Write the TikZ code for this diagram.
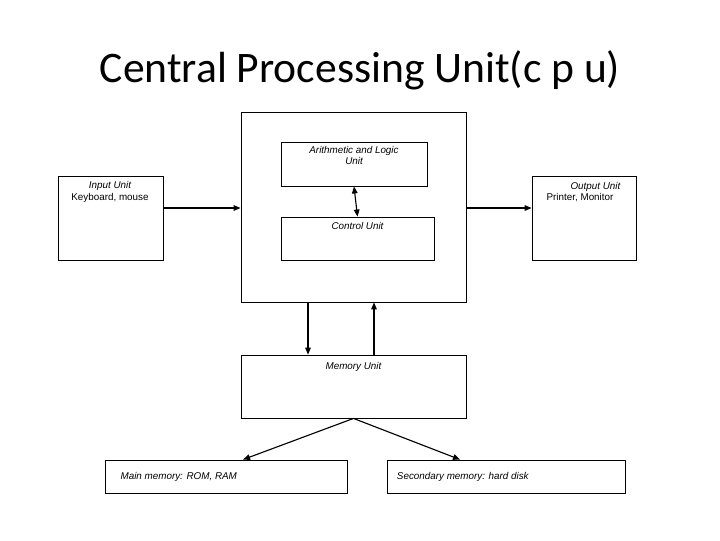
\documentclass[tikz,border=0pt]{standalone}
\usepackage{fontspec}
\setmainfont{Liberation Sans}
\newfontfamily\titlefont{Carlito}
\usetikzlibrary{positioning,arrows.meta}

\begin{document}
\begin{tikzpicture}[x=0.025cm,y=-0.025cm,thick,
    box/.style={draw,line width=0.6pt,inner sep=0pt},
    txt/.style={font=\fontsize{7}{8}\selectfont,align=center,inner sep=1pt},
    arr/.style={-{Triangle[length=5pt,width=4pt]},line width=0.8pt}]
  \useasboundingbox (0,0) rectangle (720,540);

  \node (title) at (360,70) {\titlefont\fontsize{31}{36}\selectfont Central Processing Unit(c p u)};

  % boxes
  \node[box,minimum width=225*0.025cm,minimum height=190*0.025cm] (cpu) at (353.5,207) {};
  \node[box,minimum width=146*0.025cm,minimum height=44*0.025cm] (alu) at (354,164) {};
  \node[box,minimum width=153*0.025cm,minimum height=43*0.025cm] (cu) at (357.5,238.5) {};
  \node[box,minimum width=105*0.025cm,minimum height=84*0.025cm] (in) at (110.5,218) {};
  \node[box,minimum width=104*0.025cm,minimum height=84*0.025cm] (out) at (584,218) {};
  \node[box,minimum width=225*0.025cm,minimum height=63*0.025cm] (mem) at (353.5,386.5) {};
  \node[box,minimum width=242*0.025cm,minimum height=33*0.025cm] (main) at (226,476.5) {};
  \node[box,minimum width=238*0.025cm,minimum height=33*0.025cm] (sec) at (506,476.5) {};

  % texts
  \node[txt,below=2pt of alu.north] (alut) {\itshape Arithmetic and Logic\\\itshape Unit};
  \node[txt,below=3pt of cu.north] (cut) {\itshape Control Unit};
  \node[txt] (int) at (110,192) {\itshape Input Unit\\Keyboard, mouse};
  \node[txt] (outt) at (580,192) {\hspace*{22pt}\itshape Output Unit\\Printer, Monitor};
  \node[txt,below=4pt of mem.north] (memt) {\itshape Memory Unit};
  \node[txt,right=10pt of main.west] (maint) {\itshape Main memory: ROM, RAM};
  \node[txt,right=6pt of sec.west] (sect) {\itshape Secondary memory: hard disk};

  % connectors
  \coordinate (split) at (mem.south);
  \draw[{Triangle[length=5pt,width=4pt]}-{Triangle[length=5pt,width=4pt]},line width=0.8pt] (alu.south) -- (cu.north);
  \draw[arr] (in.east |- 0,208) -- (cpu.west |- 0,208);
  \draw[arr] (cpu.east |- 0,208) -- (out.west |- 0,208);
  \draw[arr] (cpu.south -| 308,0) -- (mem.north -| 308,0);
  \draw[arr] (mem.north -| 374,0) -- (cpu.south -| 374,0);
  \draw[arr] (split) -- (main.north -| 243,0);
  \draw[arr] (split) -- (sec.north -| 460,0);
\end{tikzpicture}
\end{document}
